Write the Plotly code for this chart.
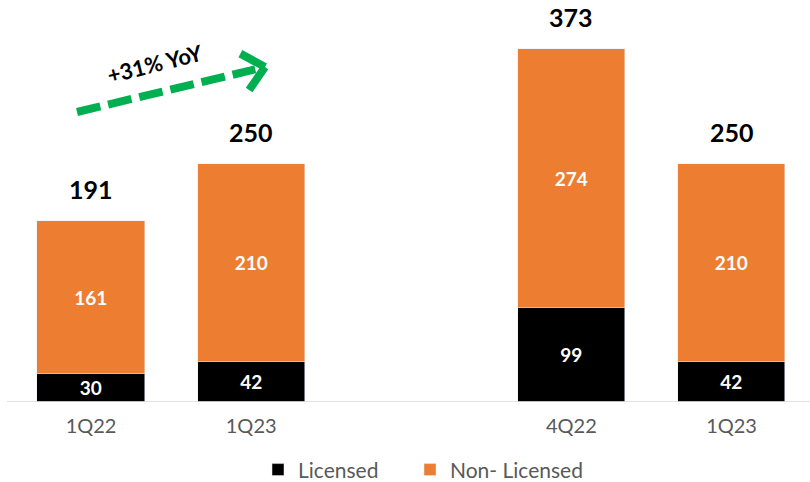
import numpy as np
import plotly.graph_objects as go

categories = ["1Q22", "1Q23", "4Q22", "1Q23"]
x_pos = [0, 1, 3, 4]
licensed = [30, 42, 99, 42]
non_licensed = [161, 210, 274, 210]
totals = [191, 250, 373, 250]

BLACK = "#000000"
ORANGE = "#ED7D31"
GREEN = "#00B050"
FONT = "Lato, Liberation Sans, Arial, sans-serif"

fig = go.Figure()
fig.add_trace(go.Bar(
    x=x_pos, y=licensed, name="Licensed", marker_color=BLACK, width=0.67,
    text=licensed, texttemplate="<b>%{text}</b>", textposition="inside",
    insidetextanchor="middle", textangle=0, legend="legend",
    textfont=dict(color="white", size=19, family=FONT), constraintext="none",
))
fig.add_trace(go.Bar(
    x=x_pos, y=non_licensed, name="Non- Licensed", marker_color=ORANGE, width=0.67,
    text=non_licensed, texttemplate="<b>%{text}</b>", textposition="inside",
    insidetextanchor="middle", textangle=0, legend="legend2",
    textfont=dict(color="white", size=19, family=FONT), constraintext="none",
))

base_y = [a + b for a, b in zip(licensed, non_licensed)]
for xp, yb, t in zip(x_pos, base_y, totals):
    fig.add_annotation(x=xp, y=yb, text=f"<b>{t}</b>", showarrow=False,
                       yanchor="middle", yshift=32,
                       font=dict(size=25, color="black", family=FONT))

# pixel -> data helpers for the growth arrow
L, R, T, B = 7, 0, 10, 80
W, H = 810, 482
xr = [-0.525, 4.49]
yr = [0, 414.4]
def px2x(px):
    return xr[0] + (px - L) / (W - L - R) * (xr[1] - xr[0])
def py2y(py):
    return yr[0] + (H - B - py) / (H - B - T) * (yr[1] - yr[0])

tail = np.array([77.0, 112.0])
tip = np.array([265.0, 67.0])
d = tip - tail
u = d / np.linalg.norm(d)
line_end = tip - u * 10
fig.add_shape(type="line", xref="x", yref="y",
              x0=px2x(tail[0]), y0=py2y(tail[1]), x1=px2x(line_end[0]), y1=py2y(line_end[1]),
              line=dict(color=GREEN, width=8, dash="24px,8px"))
ang = np.deg2rad(42)
for s in (1, -1):
    rot = np.array([[np.cos(s * ang), -np.sin(s * ang)], [np.sin(s * ang), np.cos(s * ang)]])
    arm = tip - rot @ u * 28
    fig.add_shape(type="line", xref="x", yref="y",
                  x0=px2x(arm[0]), y0=py2y(arm[1]), x1=px2x(tip[0]), y1=py2y(tip[1]),
                  line=dict(color=GREEN, width=8))
fig.add_annotation(x=px2x(155), y=py2y(63), text="<b>+31% YoY</b>", showarrow=False,
                   textangle=-14, font=dict(size=22, color="black", family=FONT))

legend_common = dict(orientation="h", xanchor="left", y=-0.121, yanchor="top",
                     font=dict(size=21, color="#595959", family=FONT),
                     itemwidth=30, bgcolor="rgba(0,0,0,0)")

fig.update_layout(
    width=W, height=H, barmode="stack", bargap=0,
    plot_bgcolor="white", paper_bgcolor="white",
    margin=dict(l=L, r=R, t=T, b=B, autoexpand=False),
    font=dict(family=FONT, color="#595959"),
    xaxis=dict(range=xr, tickvals=x_pos, ticktext=categories, showgrid=False,
               zeroline=False, showline=False, ticks="outside", ticklen=6,
               tickcolor="rgba(0,0,0,0)", automargin=False,
               tickfont=dict(size=20, color="#595959", family=FONT)),
    yaxis=dict(range=yr, visible=False, showgrid=False, zeroline=False, automargin=False),
    legend=dict(x=(258 - L) / (W - L - R), **legend_common),
    legend2=dict(x=(410 - L) / (W - L - R), **legend_common),
    showlegend=True,
)
fig.add_shape(type="line", xref="paper", yref="y", x0=0, x1=1, y0=0, y1=0,
              line=dict(color="#D9D9D9", width=1.5))

fig.write_html("out.html", config={"displayModeBar": False},
               post_script="document.body.style.margin='0';document.body.style.overflow='hidden';")
